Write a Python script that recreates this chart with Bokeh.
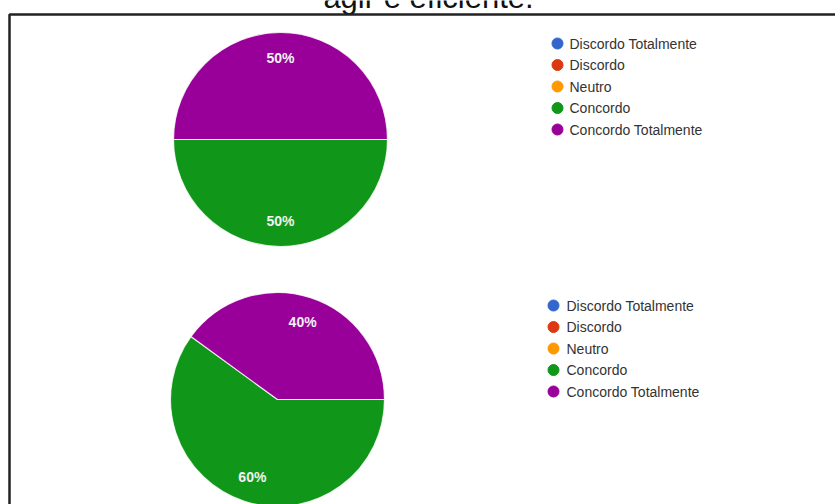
import math
from bokeh.plotting import figure
from bokeh.models import Range1d, BoxAnnotation, ColumnDataSource
from bokeh.core.properties import value
from bokeh.embed import file_html
from bokeh.resources import INLINE

# ---- data ----
categories = ["Discordo Totalmente", "Discordo", "Neutro", "Concordo", "Concordo Totalmente"]
colors = ["#3366CC", "#DC3912", "#FF9900", "#109618", "#990099"]
q1_values = [0, 0, 0, 50, 50]
q2_values = [0, 0, 0, 60, 40]
title_text = "agir e eficiente."

W, H = 835, 504
FONT = "Liberation Sans"

p = figure(width=W, height=H, output_backend="svg", toolbar_location=None,
           x_range=Range1d(0, W), y_range=Range1d(0, H), min_border=0)
p.axis.visible = False
p.grid.visible = False
p.outline_line_color = None
p.background_fill_color = "white"
p.border_fill_color = "white"

# frame of the surrounding box
p.add_layout(BoxAnnotation(left=9, right=W + 20, top=H - 14, bottom=-20,
                           fill_alpha=0, line_color="#222222", line_alpha=1.0,
                           line_width=2.5))

# title (partially cut at the top, as in the reference)
p.text(x=[428], y=[H + 3], text=[title_text], text_font=value(FONT),
       text_font_size="31px", text_color="#111111", text_align="center",
       text_baseline="alphabetic")


def draw_pie(vals, cx, cy, r, legend_x, legend_text_x, legend_y0):
    total = float(sum(vals))
    starts, ends, cols, lx, ly, labels = [], [], [], [], [], []
    cum = 0.0
    for v, c in zip(vals, colors):
        if v <= 0:
            continue
        a0 = -cum / total * 2 * math.pi
        cum += v
        a1 = -cum / total * 2 * math.pi
        starts.append(a0)
        ends.append(a1)
        cols.append(c)
        mid = (a0 + a1) / 2
        lx.append(cx + 0.76 * r * math.cos(mid))
        ly.append(cy + 0.76 * r * math.sin(mid))
        labels.append(f"{round(v / total * 100)}%")
    src = ColumnDataSource(dict(x=[cx] * len(starts), y=[cy] * len(starts),
                                s=starts, e=ends, c=cols))
    p.wedge(x="x", y="y", radius=r, start_angle="s", end_angle="e",
            direction="clock", fill_color="c", line_color="white",
            line_width=1.2, line_alpha=0.8, source=src)
    p.text(x=lx, y=ly, text=labels, text_font=value(FONT), text_font_size="14px",
           text_font_style="bold", text_color="#f2f2f2", text_align="center",
           text_baseline="middle")
    # legend
    ys = [legend_y0 - i * 21.5 for i in range(len(categories))]
    p.scatter(x=[legend_x] * len(categories), y=ys, size=11, marker="circle",
              fill_color=colors, line_color=colors)
    p.text(x=[legend_text_x] * len(categories), y=ys, text=categories,
           text_font=value(FONT), text_font_size="14px", text_color="#333333",
           text_align="left", text_baseline="middle")


draw_pie(q1_values, 280, H - 139, 107, 557, 569, H - 43)
draw_pie(q2_values, 277, H - 399, 107, 553, 566, H - 305)

open("out.html", "w").write(file_html(p, INLINE))
